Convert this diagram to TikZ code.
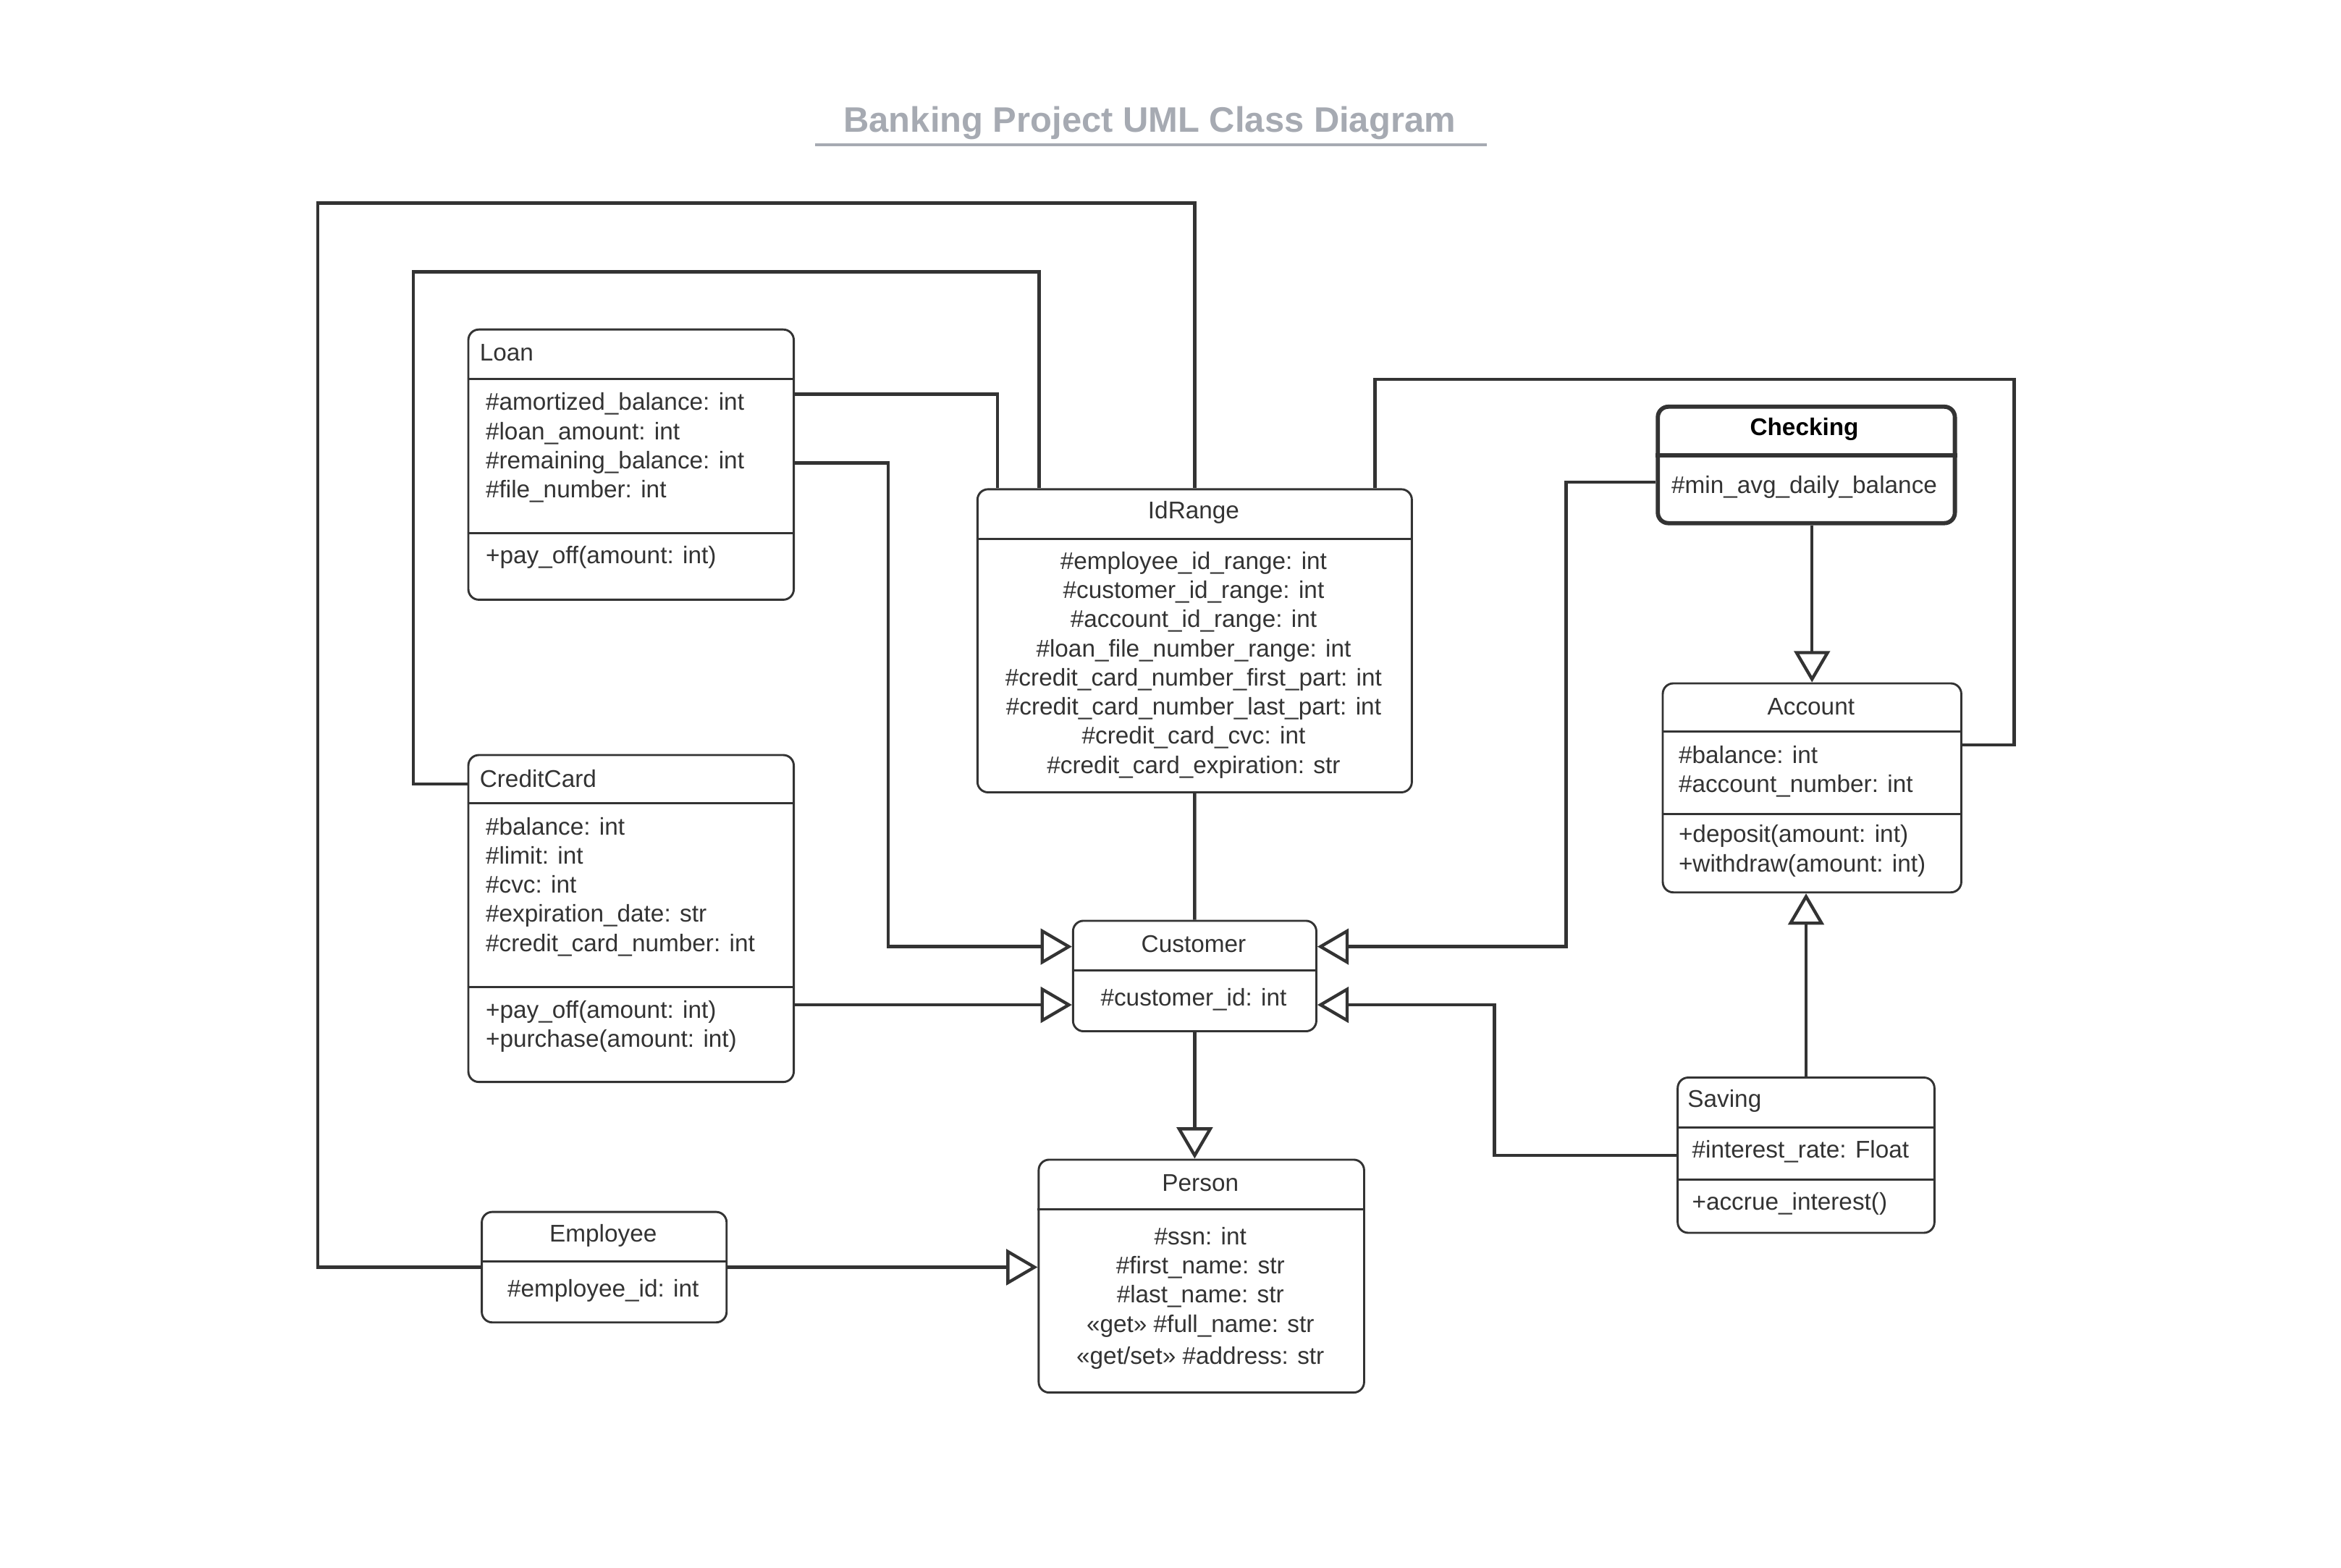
\documentclass[tikz,border=0pt]{standalone}
\usepackage{fontspec}
\setmainfont{Liberation Sans}
\usetikzlibrary{arrows.meta}
\definecolor{umlgray}{HTML}{333333}
\definecolor{titlegray}{HTML}{A6AAB2}

\begin{document}
\begin{tikzpicture}[x=0.02cm, y=-0.02cm,
		class_style/.style={draw=umlgray, line width=0.8pt, rounded corners=4pt, anchor=north west, inner sep=0pt, fill=white},
		sep_style/.style={draw=umlgray, line width=0.8pt},
		text_style/.style={inner sep=0pt, yshift=-0.8pt, text=umlgray, font=\fontsize{9.2}{11.1}\selectfont},
		left_style/.style={text_style, anchor=west, align=left},
		mid_style/.style={text_style, align=center},
		edge_style/.style={draw=umlgray, line width=1.2pt},
		gen_style/.style={edge_style, -{Triangle[open, length=0.42cm, width=0.48cm]}}]

		\useasboundingbox (0,0) rectangle (1568,1050);

		% title
		\node[font=\fontsize{13.5}{16}\selectfont\bfseries, text=titlegray, inner sep=0pt] (title) at (770,82.5) {Banking Project UML Class Diagram};
		\draw[titlegray, line width=1.2pt] (546,97) -- (996,97);

		% class boxes
		\node[class_style, minimum width=4.36cm, minimum height=3.62cm] (loan) at (313,220) {};
		\node[class_style, minimum width=4.36cm, minimum height=4.38cm] (cc) at (313,505) {};
		\node[class_style, minimum width=5.82cm, minimum height=4.06cm] (idr) at (654,327) {};
		\node[class_style, line width=1.6pt, minimum width=3.98cm, minimum height=1.56cm] (chk) at (1109,271) {};
		\node[class_style, minimum width=4.0cm, minimum height=2.8cm] (acc) at (1113,457) {};
		\node[class_style, minimum width=3.26cm, minimum height=1.48cm] (cust) at (718,616) {};
		\node[class_style, minimum width=3.44cm, minimum height=2.08cm] (sav) at (1123,721) {};
		\node[class_style, minimum width=4.36cm, minimum height=3.12cm] (pers) at (695,776) {};
		\node[class_style, minimum width=3.28cm, minimum height=1.48cm] (emp) at (322,811) {};

		% compartments
		\draw[sep_style] (loan.west |- 0,254) -- (loan.east |- 0,254);
		\draw[sep_style] (loan.west |- 0,357) -- (loan.east |- 0,357);
		\draw[sep_style] (cc.west |- 0,538) -- (cc.east |- 0,538);
		\draw[sep_style] (cc.west |- 0,661) -- (cc.east |- 0,661);
		\draw[sep_style] (idr.west |- 0,361) -- (idr.east |- 0,361);
		\draw[sep_style, line width=1.6pt] (chk.west |- 0,305) -- (chk.east |- 0,305);
		\draw[sep_style] (acc.west |- 0,490) -- (acc.east |- 0,490);
		\draw[sep_style] (acc.west |- 0,545) -- (acc.east |- 0,545);
		\draw[sep_style] (cust.west |- 0,650) -- (cust.east |- 0,650);
		\draw[sep_style] (sav.west |- 0,755) -- (sav.east |- 0,755);
		\draw[sep_style] (sav.west |- 0,790) -- (sav.east |- 0,790);
		\draw[sep_style] (pers.west |- 0,810) -- (pers.east |- 0,810);
		\draw[sep_style] (emp.west |- 0,845) -- (emp.east |- 0,845);

		% texts
		\node[left_style] (loan_t) at (321,235) {Loan};
		\node[left_style] (loan_a) at (325,298.5) {\#amortized\_balance: int\\\#loan\_amount: int\\\#remaining\_balance: int\\\#file\_number: int};
		\node[left_style] (loan_m) at (325,372) {+pay\_off(amount: int)};

		\node[left_style] (cc_t) at (321,520) {CreditCard};
		\node[left_style] (cc_a) at (325,592.5) {\#balance: int\\\#limit: int\\\#cvc: int\\\#expiration\_date: str\\\#credit\_card\_number: int};
		\node[left_style] (cc_m) at (325,686) {+pay\_off(amount: int)\\+purchase(amount: int)};

		\node[mid_style] (idr_t) at (799.5,342) {IdRange};
		\node[mid_style] (idr_a) at (799.5,444) {\#employee\_id\_range: int\\\#customer\_id\_range: int\\\#account\_id\_range: int\\\#loan\_file\_number\_range: int\\\#credit\_card\_number\_first\_part: int\\\#credit\_card\_number\_last\_part: int\\\#credit\_card\_cvc: int\\\#credit\_card\_expiration: str};

		\node[mid_style, font=\fontsize{9.2}{11.1}\selectfont\bfseries, text=black] (chk_t) at (1208.5,286) {Checking};
		\node[mid_style] (chk_a) at (1208.5,325) {\#min\_avg\_daily\_balance};

		\node[mid_style] (acc_t) at (1213,472) {Account};
		\node[left_style] (acc_a) at (1124,515.5) {\#balance: int\\\#account\_number: int};
		\node[left_style] (acc_m) at (1124,568.5) {+deposit(amount: int)\\+withdraw(amount: int)};

		\node[mid_style] (cust_t) at (799.5,631) {Customer};
		\node[mid_style] (cust_a) at (799.5,668) {\#customer\_id: int};

		\node[left_style] (sav_t) at (1130,736) {Saving};
		\node[left_style] (sav_a) at (1133,770) {\#interest\_rate: Float};
		\node[left_style] (sav_m) at (1133,805) {+accrue\_interest()};

		\node[mid_style] (pers_t) at (804,791) {Person};
		\node[mid_style] (pers_a) at (804,868) {\#ssn: int\\\#first\_name: str\\\#last\_name: str\\«get» \#full\_name: str\\[1pt]«get/set» \#address: str};

		\node[mid_style] (emp_t) at (404,826) {Employee};
		\node[mid_style] (emp_a) at (404,863) {\#employee\_id: int};

		% connectors
		\draw[edge_style] (cc.west |- 0,525) -| (277,182) -| (idr.north -| 696,0);
		\draw[edge_style] (emp.west) -| (213,136) -| (idr.north);
		\draw[edge_style] (loan.east |- 0,264) -| (idr.north -| 668,0);
		\draw[edge_style] (idr.north -| 921,0) |- (1349,254) |- (acc.east |- 0,499);
		\draw[edge_style] (idr.south) -- (cust.north);

		\draw[gen_style] (loan.east |- 0,310) -| (595,634) -- (cust.west |- 0,634);
		\draw[gen_style] (cc.east |- 0,673) -- (cust.west |- 0,673);
		\draw[gen_style] (chk.west |- 0,323) -| (1049,634) -- (cust.east |- 0,634);
		\draw[gen_style] (sav.west) -| (1001,673) -- (cust.east |- 0,673);
		\draw[gen_style] (cust.south) -- (pers.north -| cust.south);
		\draw[gen_style] (emp.east) -- (pers.west |- emp.east);
		\draw[gen_style] (acc.north |- chk.south) -- (acc.north);
		\draw[gen_style] (sav.north) -- (acc.south -| sav.north);

\end{tikzpicture}
\end{document}
